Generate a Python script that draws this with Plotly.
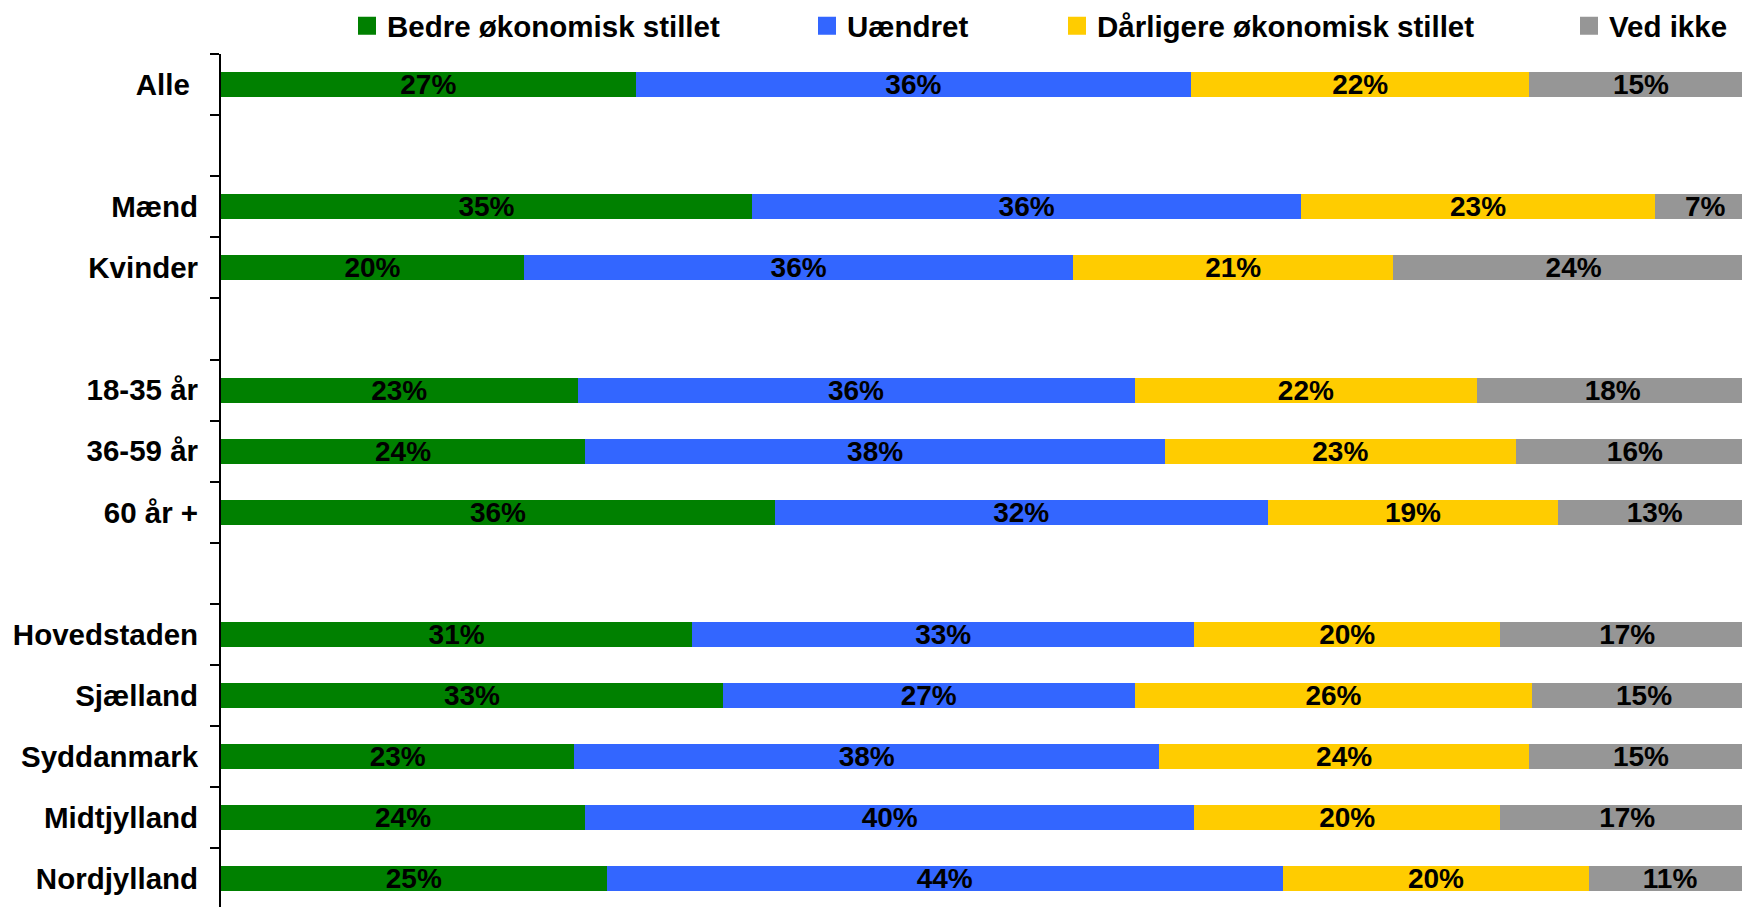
import plotly.graph_objects as go

categories = ["Alle\u00a0", " ", "Mænd", "Kvinder", "  ", "18-35 år", "36-59 år", "60 år +", "   ",
              "Hovedstaden", "Sjælland", "Syddanmark", "Midtjylland", "Nordjylland"]
series_names = ["Bedre økonomisk stillet", "Uændret", "Dårligere økonomisk stillet", "Ved ikke"]
bedre = [27.1, None, 34.7, 19.8, None, 23.3, 23.8, 36.2, None, 30.8, 32.8, 23.1, 23.8, 25.2]
uaendret = [36.3, None, 35.9, 35.9, None, 36.4, 37.9, 32.2, None, 32.8, 26.9, 38.2, 39.8, 44.2]
daarligere = [22.1, None, 23.1, 20.9, None, 22.4, 22.9, 19.0, None, 20.0, 26.0, 24.2, 20.0, 20.0]
ved_ikke = [14.6, None, 6.6, 23.6, None, 17.7, 15.6, 12.6, None, 16.6, 14.6, 14.6, 16.6, 10.6]
colors = ["#008000", "#3366FF", "#FFCC00", "#969696"]

W, H = 1742, 907
ML, MT = 221, 54
PW = W - ML
PH = H - MT

FONT = "Liberation Sans, Arial, sans-serif"

fig = go.Figure()
for name, vals, col in zip(series_names, [bedre, uaendret, daarligere, ved_ikke], colors):
    fig.add_trace(go.Bar(
        y=categories, x=vals, orientation="h", name=name,
        marker=dict(color=col, line=dict(width=0)),
        texttemplate="%{x:.0f}%",
        textposition="inside", insidetextanchor="middle", textangle=0,
        textfont=dict(family=FONT, size=28, color="black", weight="bold"),
        showlegend=False, hoverinfo="skip",
    ))

# legend entries (separate legends to match the spacing)
text_starts = [388, 848, 1098, 1610]  # x of legend text
legend_ids = ["legend", "legend2", "legend3", "legend4"]
for name, col, lid in zip(series_names, colors, legend_ids):
    fig.add_trace(go.Scatter(
        x=[None], y=[None], mode="markers", name=name, legend=lid,
        marker=dict(symbol="square", size=16, color=col, line=dict(width=2, color=col)),
        showlegend=True, hoverinfo="skip",
    ))

leg_y = 1 + (MT - 26) / PH
layout_legends = {}
for lid, ts in zip(legend_ids, text_starts):
    layout_legends[lid] = dict(
        x=(ts - 41 - ML) / PW, xanchor="left", xref="paper",
        y=leg_y, yanchor="middle", yref="paper",
        orientation="h", bgcolor="rgba(0,0,0,0)", borderwidth=0,
        font=dict(family=FONT, size=29.5, color="black", weight="bold"),
        itemclick=False, itemdoubleclick=False,
    )

fig.update_layout(
    width=W, height=H,
    margin=dict(l=ML, r=0, t=MT, b=0, pad=0, autoexpand=False),
    barmode="stack", bargap=0.59,
    plot_bgcolor="white", paper_bgcolor="white",
    uniformtext=dict(minsize=28, mode="show"),
    xaxis=dict(range=[0, 99.4], visible=False, showgrid=False, zeroline=False,
               fixedrange=True, automargin=False),
    yaxis=dict(
        type="category", categoryorder="array", categoryarray=categories,
        range=[13.46, -0.5], showline=True, linecolor="black", linewidth=2,
        ticks="outside", tickson="boundaries", ticklen=9, tickwidth=2, tickcolor="black",
        ticklabelstandoff=15, automargin=False,
        tickfont=dict(family=FONT, size=29.5, color="black", weight="bold"),
        showgrid=False, zeroline=False, fixedrange=True,
    ),
    **layout_legends,
)

fig.write_html(
    "out.html",
    config={"displayModeBar": False},
    post_script="document.body.style.margin='0';document.body.style.overflow='hidden';",
)
